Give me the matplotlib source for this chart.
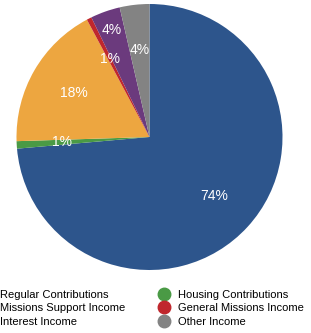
import matplotlib.pyplot as plt
from matplotlib.lines import Line2D

categories = [
    "Regular Contributions",
    "Housing Contributions",
    "Missions Support Income",
    "General Missions Income",
    "Interest Income",
    "Other Income",
]
values = [73.6, 0.9, 17.7, 0.6, 3.6, 3.6]
colors = ["#2d558c", "#4a9a45", "#eda640", "#c0272d", "#6b3a7d", "#838383"]
legend_order = [0, 2, 4, 1, 3, 5]

plt.rcParams["font.family"] = ["Liberation Sans", "DejaVu Sans"]

fig = plt.figure(figsize=(3.11, 3.33), dpi=100)
ax = fig.add_axes([16.5 / 311, 63 / 333, 266 / 311, 266 / 333])

wedges, texts, autotexts = ax.pie(
    values,
    colors=colors,
    startangle=90,
    counterclock=False,
    autopct=lambda p: f"{p:.0f}%",
    pctdistance=0.66,
    textprops={"color": "white", "fontsize": 10},
)
# the purple label sits further out in the original
x, y = autotexts[4].get_position()
autotexts[4].set_position((x * 0.85 / 0.66, y * 0.85 / 0.66))

ax.set_xlim(-1, 1)
ax.set_ylim(-1, 1)
ax.set_aspect("equal")

handles = [
    Line2D([], [], marker="o", linestyle="none", markersize=9,
           markerfacecolor=colors[i], markeredgecolor=colors[i])
    for i in legend_order
]
labels = [categories[i] for i in legend_order]
fig.legend(
    handles, labels,
    loc="upper left",
    bbox_to_anchor=(-20 / 311, 1 - 290 / 333),
    ncol=2,
    frameon=False,
    fontsize=8,
    handlelength=1.0,
    handletextpad=0.8,
    columnspacing=2.95,
    labelspacing=0.3,
    borderpad=0,
    borderaxespad=0,
)

fig.savefig("out.png", dpi=100)
